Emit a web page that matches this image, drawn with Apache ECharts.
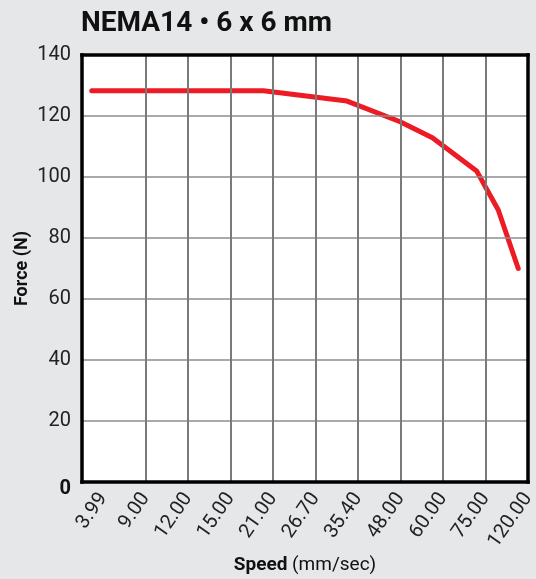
<!DOCTYPE html>
<html>
<head>
<meta charset="utf-8">
<script src="https://cdn.jsdelivr.net/npm/echarts@6/dist/echarts.min.js"></script>
<style>
  html, body { margin: 0; padding: 0; background: #e6e7e9; }
  #chart { width: 536px; height: 579px; }
</style>
</head>
<body>
<div id="chart"></div>
<script>
// speed tick labels (evenly spaced on the axis)
const speedLabels = ['3.99', '9.00', '12.00', '15.00', '21.00', '26.70', '35.40', '48.00', '60.00', '75.00', '120.00'];
const labelSlots = [0, 1, 2, 3, 4, 5, 6, 7, 8, 9, 10];
// curve vertices: position along the label axis (in label steps) and force in N
const curveX = [-0.27, 3.77, 5.74, 6.99, 7.75, 8.79, 9.30, 9.77];
const forceN = [128.3, 128.3, 124.9, 118.1, 112.9, 102.0, 89.2, 70.0];
const forceTicks = [0, 20, 40, 60, 80, 100, 120, 140];

// black frame round the plot, drawn with the axis lines
const frame = () => ({ show: true, onZero: false, lineStyle: { color: '#000', width: 3.5, cap: 'square' } });

const chart = echarts.init(document.getElementById('chart'));

const option = {
  backgroundColor: '#e6e7e9',
  textStyle: { fontFamily: 'Roboto' },
  title: {
    text: 'NEMA14 • 6 x 6 mm',
    left: 76,
    top: 5,
    textStyle: { fontFamily: 'Roboto', fontSize: 28, fontWeight: 'bold', color: '#111' }
  },
  grid: {
    left: 82,
    right: 8,
    top: 55,
    bottom: 97,
    outerBoundsMode: 'none',
    containLabel: false,
    show: true,
    backgroundColor: '#fff',
    borderWidth: 0
  },
  xAxis: [{
    type: 'value',
    min: -0.5,
    max: 10,
    axisLine: frame(),
    axisTick: { show: false, customValues: labelSlots },
    splitLine: { show: true, showMinLine: false, showMaxLine: false, lineStyle: { color: '#7a7a7a', width: 2 } },
    axisLabel: {
      customValues: labelSlots,
      rotate: 55,
      margin: 13,
      fontSize: 20,
      color: '#222',
      formatter: v => speedLabels[Math.round(v)]
    },
    name: '{b|Speed} (mm/sec)',
    nameLocation: 'middle',
    nameGap: 74,
    nameMoveOverlap: false,
    nameTextStyle: {
      fontSize: 19,
      color: '#111',
      rich: { b: { fontSize: 19, fontWeight: 'bold', color: '#111' } }
    },
    z: 10
  }, {
    type: 'value',
    position: 'top',
    min: -0.5,
    max: 10,
    axisLine: frame(),
    axisTick: { show: false },
    axisLabel: { show: false },
    splitLine: { show: false },
    z: 10
  }],
  yAxis: [{
    type: 'value',
    min: forceTicks[0],
    max: forceTicks[forceTicks.length - 1],
    interval: 20,
    axisLine: frame(),
    axisTick: { show: false },
    splitLine: { show: true, showMinLine: false, showMaxLine: false, lineStyle: { color: '#8c8c8c', width: 1.5 } },
    axisLabel: {
      margin: 11,
      fontSize: 20,
      color: '#222',
      formatter: v => v === 0 ? '{z|0}' : String(v),
      rich: { z: { fontSize: 20, fontWeight: 'bold', color: '#111', padding: [14, 0, 0, 0] } }
    },
    name: 'Force (N)',
    nameLocation: 'middle',
    nameGap: 51,
    nameMoveOverlap: false,
    nameTextStyle: { fontSize: 18, fontWeight: 'bold', color: '#111' },
    z: 10
  }, {
    type: 'value',
    position: 'right',
    min: forceTicks[0],
    max: forceTicks[forceTicks.length - 1],
    interval: 20,
    axisLine: frame(),
    axisTick: { show: false },
    axisLabel: { show: false },
    splitLine: { show: false },
    z: 10
  }],
  series: [{
    type: 'line',
    data: curveX.map((x, i) => [x, forceN[i]]),
    symbol: 'none',
    lineStyle: { color: '#ed1c24', width: 5, cap: 'round', join: 'round' },
    z: 4,
    silent: true
  }]
};

chart.setOption(option);
</script>
</body>
</html>
